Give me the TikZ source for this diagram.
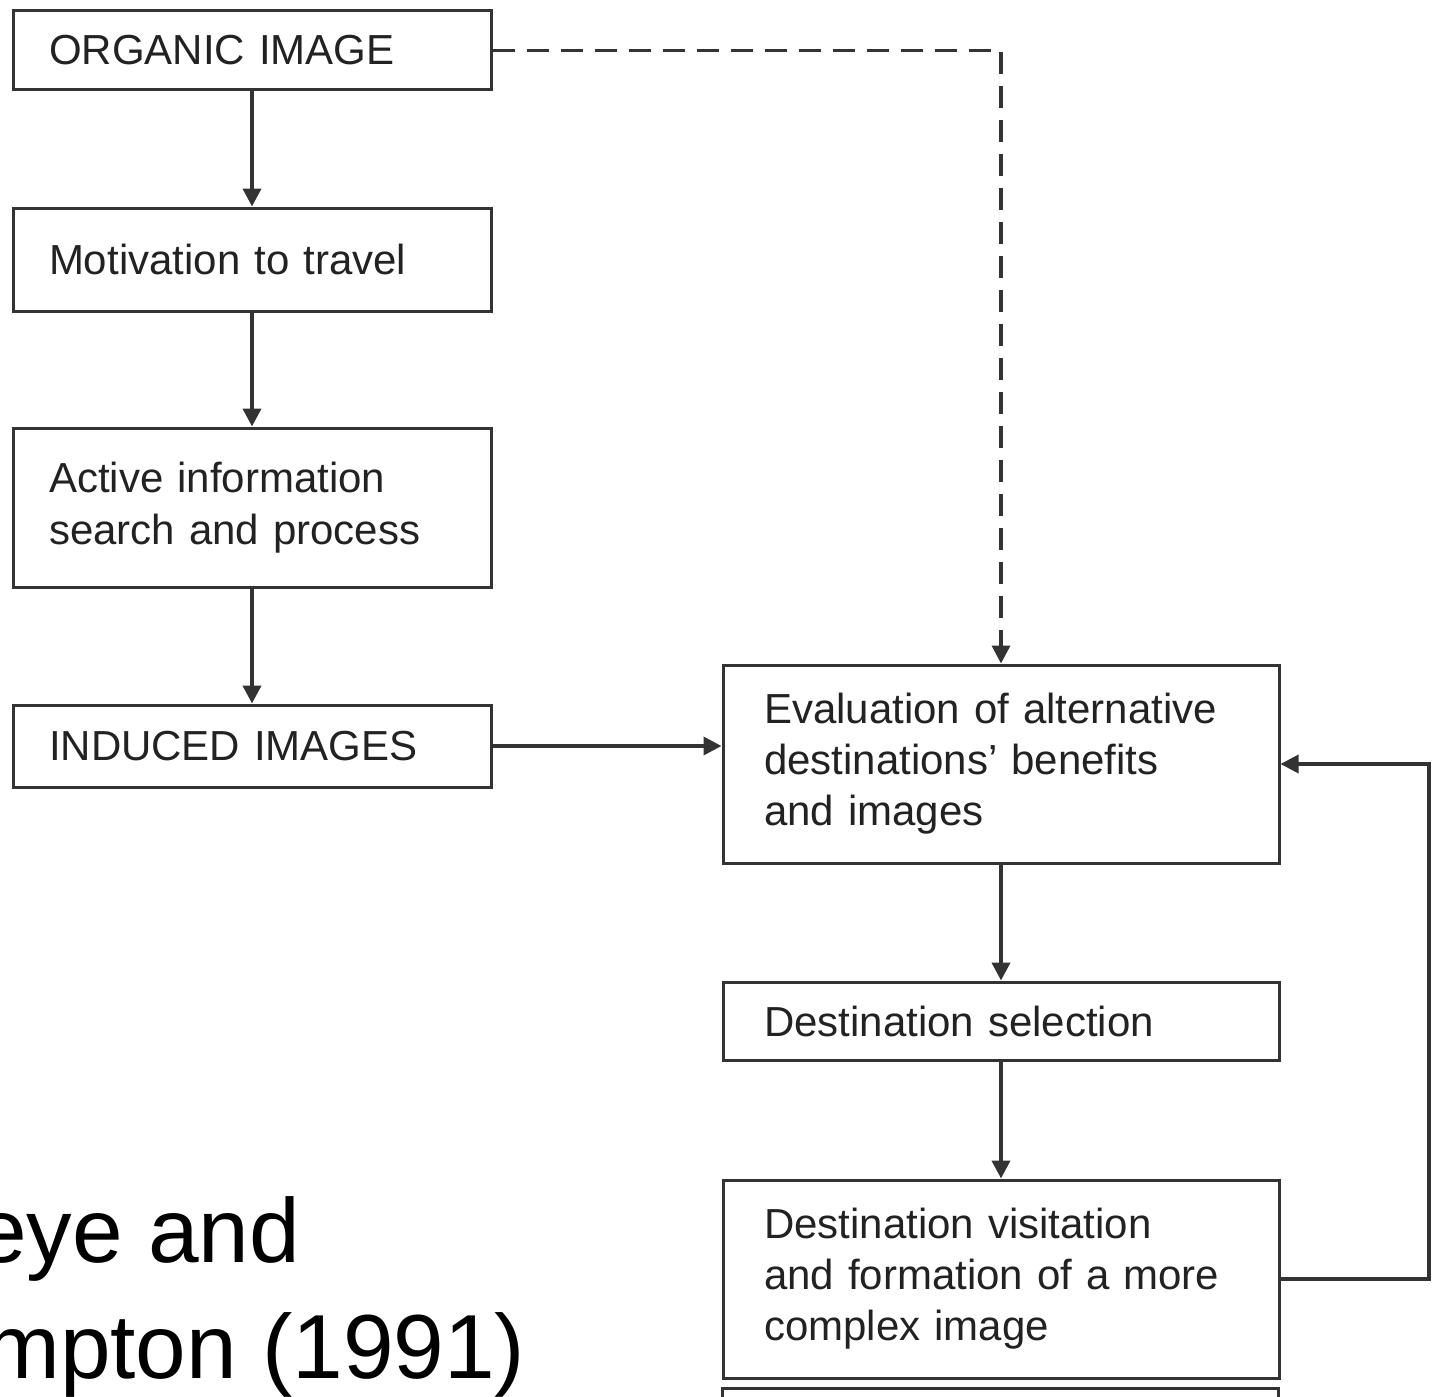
\documentclass[tikz,border=0pt]{standalone}
\usepackage{fontspec}
\setmainfont{Liberation Sans}
\usetikzlibrary{arrows.meta}
\definecolor{ln}{HTML}{333333}
\definecolor{tx}{HTML}{222222}
\tikzset{
  lbox/.style={draw=ln, line width=3pt, rectangle, inner ysep=0pt, inner xsep=36pt,
    text width=406pt, align=left, text=tx, font=\fontsize{42}{52}\selectfont},
  rbox/.style={draw=ln, line width=3pt, rectangle, inner ysep=0pt, inner xsep=41pt,
    text width=474pt, align=left, text=tx, font=\fontsize{42}{51}\selectfont},
  flow/.style={draw=ln, line width=4pt, -{Triangle[length=18pt,width=18pt]}},
  dashflow/.style={draw=ln, line width=3.5pt, dash pattern=on 22pt off 12pt,
    -{Triangle[length=18pt,width=18pt]}},
  big/.style={font=\fontsize{91}{100}\selectfont, text=black, inner sep=0pt}
}
\begin{document}
\begin{tikzpicture}[x=1pt,y=-1pt]
\useasboundingbox (0,0) rectangle (1433,1397);
\clip (0,0) rectangle (1433,1397);
\fill[white] (0,0) rectangle (1433,1397);

\node[lbox, minimum height=79pt] (org) at (252,50.5) {ORGANIC IMAGE};
\node[lbox, minimum height=103pt] (mot) at (252,259.5) {Motivation to travel};
\node[lbox, minimum height=159pt] (act) at (252,507.5) {Active information\\search and process};
\node[lbox, minimum height=82pt] (ind) at (252,746) {INDUCED IMAGES};

\node[rbox, minimum height=198pt] (eva) at (1001,764) {Evaluation of alternative\\destinations' benefits\\and images};
\node[rbox, minimum height=78pt] (sel) at (1001,1021) {Destination selection};
\node[rbox, minimum height=198pt] (vis) at (1001,1279) {Destination visitation\\and formation of a more\\complex image};
\node[draw=ln, line width=3pt, minimum width=556pt, minimum height=100pt, inner sep=0pt] (nxt) at (1000,1438) {};

\draw[flow] (org.south) -- (mot.north);
\draw[flow] (mot.south) -- (act.north);
\draw[flow] (act.south) -- (ind.north);
\draw[dashflow] (org.east) -| (eva.north);
\draw[flow, line width=3.5pt] (ind.east) -- (ind.east -| eva.west);
\draw[flow] (eva.south) -- (sel.north);
\draw[flow] (sel.south) -- (vis.north);
\coordinate (fb) at (1429,1275);
\draw[flow, line width=3.5pt] (vis.east) -- (vis.east -| fb) |- (eva.east);

\node[big, anchor=base west] (t1) at (-24,1262) {eye and};
\node[big, anchor=base west] (t2) at (-16,1378) {mpton (1991)};
\end{tikzpicture}
\end{document}
